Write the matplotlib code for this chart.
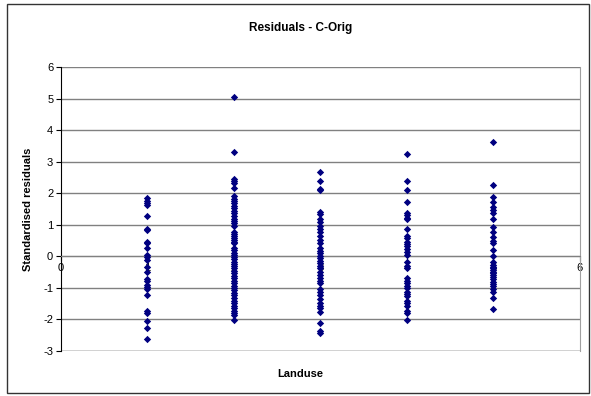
import matplotlib
matplotlib.use("Agg")
import matplotlib.pyplot as plt
from matplotlib.patches import Rectangle

plt.rcParams['font.family'] = ['Liberation Sans', 'DejaVu Sans']
plt.rcParams['axes.unicode_minus'] = False

# standardised residuals, one list per landuse class
landuse_1 = [1.84, 1.76, 1.68, 1.63, 1.28, 0.88, 0.84, 0.47, 0.41, 0.28, 0.04, -0.01,
             -0.12, -0.35, -0.50, -0.72, -0.77, -0.90, -0.98, -1.05, -1.21, -1.72,
             -1.79, -2.06, -2.27, -2.61]
landuse_2 = [5.05, 3.32, 2.46, 2.39, 2.32, 2.18, 1.92, 1.83, 1.76, 1.68, 1.60, 1.53,
             1.44, 1.37, 1.28, 1.20, 1.13, 1.05, 0.97, 0.76, 0.70, 0.63, 0.57, 0.53,
             0.47, 0.41, 0.28, 0.21, 0.11, 0.04, -0.03, -0.08, -0.17, -0.24, -0.29,
             -0.38, -0.45, -0.53, -0.61, -0.69, -0.77, -0.84, -0.93, -1.01, -1.08,
             -1.16, -1.24, -1.33, -1.40, -1.47, -1.56, -1.64, -1.72, -1.79, -1.87, -2.01]
landuse_3 = [2.68, 2.39, 2.15, 2.09, 1.41, 1.34, 1.18, 1.09, 0.97, 0.88, 0.76, 0.63,
             0.53, 0.42, 0.25, 0.18, 0.11, 0.02, -0.06, -0.14, -0.21, -0.29, -0.38,
             -0.48, -0.59, -0.69, -0.77, -0.84, -1.05, -1.14, -1.22, -1.35, -1.47,
             -1.56, -1.64, -1.77, -2.11, -2.35, -2.42]
landuse_4 = [3.23, 2.39, 2.11, 1.71, 1.39, 1.31, 1.23, 1.18, 0.88, 0.65, 0.57, 0.46,
             0.39, 0.32, 0.23, 0.15, 0.04, -0.19, -0.29, -0.38, -0.69, -0.77, -0.84,
             -0.93, -1.01, -1.12, -1.19, -1.27, -1.40, -1.48, -1.56, -1.72, -1.79, -2.01]
landuse_5 = [3.62, 2.26, 1.89, 1.71, 1.55, 1.47, 1.39, 1.18, 0.92, 0.76, 0.60, 0.49,
             0.42, 0.21, 0.00, -0.19, -0.26, -0.33, -0.38, -0.43, -0.48, -0.54, -0.59,
             -0.64, -0.72, -0.80, -0.87, -0.95, -1.03, -1.12, -1.33, -1.66]

groups = [landuse_1, landuse_2, landuse_3, landuse_4, landuse_5]
classes = [1, 2, 3, 4, 5]
x_ticks = [0, 1, 2, 3, 4, 5, 6]
y_ticks = [-3, -2, -1, 0, 1, 2, 3, 4, 5, 6]

fig = plt.figure(figsize=(5.91, 3.96), dpi=100)
ax = fig.add_axes([0.103, 0.1136, 0.878, 0.717])

for c, vals in zip(classes, groups):
    ax.scatter([c] * len(vals), vals, marker='D', s=14, color='#000080',
               linewidths=0, zorder=5, clip_on=False)

ax.set_xlim(0, 6)
ax.set_ylim(-3, 6)
ax.set_xticks(x_ticks)
ax.set_yticks(y_ticks)
ax.tick_params(axis='both', labelsize=8, direction='out', length=3.5, width=0.8,
               colors='black', pad=2)
ax.tick_params(axis='x', pad=1)

ax.grid(axis='y', color='#808080', lw=1)
ax.set_axisbelow(True)
ax.spines['bottom'].set_position(('data', 0))
ax.spines['bottom'].set_color('#808080')
ax.spines['left'].set_color('black')
ax.spines['top'].set_visible(False)
ax.spines['right'].set_color('#a0a0a0')
ax.axhline(-3, color='#808080', lw=1, zorder=0)

fig.text(0.508, 0.929, "Residuals - C-Orig", ha='center', va='center',
         fontsize=8.5, fontweight='bold')
fig.text(0.508, 0.056, "Landuse", ha='center', va='center',
         fontsize=8, fontweight='bold')
fig.text(0.047, 0.472, "Standardised residuals", ha='center', va='center',
         rotation=90, fontsize=8, fontweight='bold')

fig.add_artist(Rectangle((0.011, 0.008), 0.985, 0.983, transform=fig.transFigure,
                         fill=False, edgecolor='#333333', lw=1))

plt.savefig("out.png", dpi=100)
